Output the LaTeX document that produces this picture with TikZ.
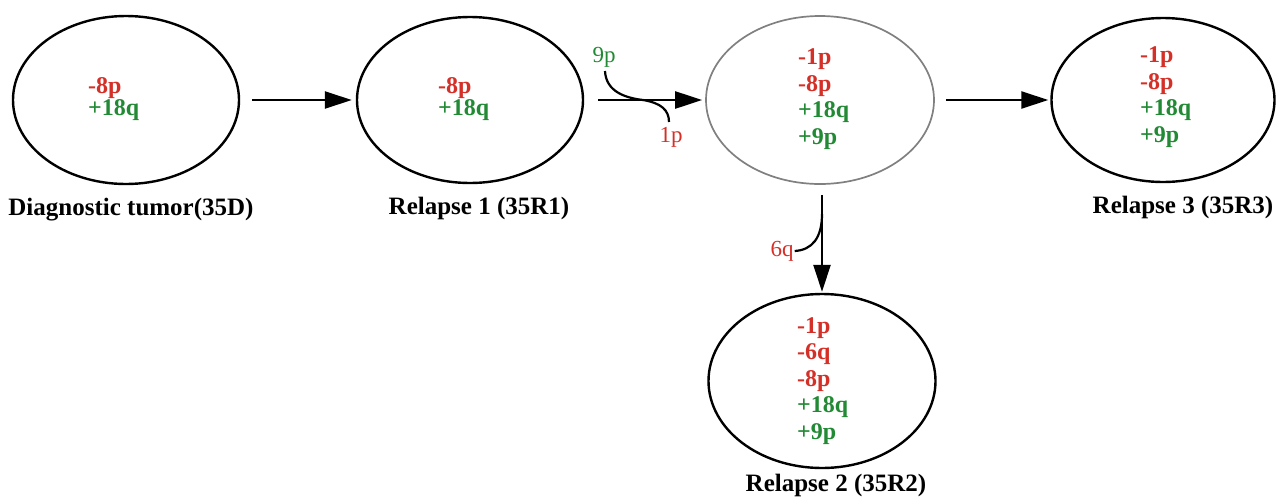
\documentclass[tikz,border=0pt]{standalone}
\usepackage{fontspec}
\setmainfont{Liberation Serif}
\usetikzlibrary{arrows.meta,shapes.geometric}
\definecolor{cred}{RGB}{212,48,40}
\definecolor{cgreen}{RGB}{34,138,52}
\tikzset{
  ell/.style={draw=black, line width=2.4pt, ellipse, inner sep=0pt},
  gell/.style={draw=black!50, line width=1.7pt, ellipse, inner sep=0pt},
  gain/.style={font=\fontsize{24}{22}\selectfont\bfseries, align=left, anchor=west, inner sep=0pt},
  gainw/.style={font=\fontsize{24}{26.5}\selectfont\bfseries, align=left, anchor=west, inner sep=0pt},
  lab/.style={font=\fontsize{25}{27}\selectfont\bfseries, inner sep=0pt},
  small/.style={font=\fontsize{23}{25}\selectfont, inner sep=1pt},
  arr/.style={line width=2.4pt, -{Triangle[length=27pt,width=17pt]}},
  curv/.style={line width=2.2pt}
}
\begin{document}
\begin{tikzpicture}[x=1pt,y=-1pt]
\useasboundingbox (0,0) rectangle (1280,496);
% ellipses
\node[ell, minimum width=226pt, minimum height=168pt] (e1) at (126,100) {};
\node[ell, minimum width=226pt, minimum height=166pt] (e2) at (470,100) {};
\node[gell, minimum width=228pt, minimum height=168pt] (e3) at (820,100) {};
\node[ell, minimum width=223pt, minimum height=164pt] (e4) at (1163,100) {};
\node[ell, minimum width=227pt, minimum height=174pt] (e5) at (822,381) {};
% contents
\node[gain] (t1) at (88,99) {\textcolor{cred}{-8p}\\\textcolor{cgreen}{+18q}};
\node[gain] (t2) at (438,99) {\textcolor{cred}{-8p}\\\textcolor{cgreen}{+18q}};
\node[gainw] (t3) at (798,99) {\textcolor{cred}{-1p}\\\textcolor{cred}{-8p}\\\textcolor{cgreen}{+18q}\\\textcolor{cgreen}{+9p}};
\node[gainw] (t4) at (1140,97) {\textcolor{cred}{-1p}\\\textcolor{cred}{-8p}\\\textcolor{cgreen}{+18q}\\\textcolor{cgreen}{+9p}};
\node[gainw] (t5) at (797,381) {\textcolor{cred}{-1p}\\\textcolor{cred}{-6q}\\\textcolor{cred}{-8p}\\\textcolor{cgreen}{+18q}\\\textcolor{cgreen}{+9p}};
% labels
\node[lab] (l1) at (131,210) {Diagnostic tumor(35D)};
\node[lab] (l2) at (479,208) {Relapse 1 (35R1)};
\node[lab] (l4) at (1183,207) {Relapse 3 (35R3)};
\node[lab] (l5) at (836,485) {Relapse 2 (35R2)};
% arrows
\draw[arr, shorten <=12pt, shorten >=4pt] (e1) -- (e2);
\draw[arr, shorten <=14pt, shorten >=3pt] (e2) -- (e3);
\draw[arr, shorten <=11pt, shorten >=2pt] (e3) -- (e4);
\draw[arr, shorten <=10pt, shorten >=1pt] (e3.south -| e5.north) -- (e5.north);
% gain/loss labels
\node[small, text=cgreen] (l9p) at (604,57) {9p};
\node[small, text=cred] (l1p) at (671,137) {1p};
\node[small, text=cred] (l6q) at (782,251) {6q};
\coordinate (c9) at (605,71);
\coordinate (c1) at (669,122);
\coordinate (c6) at (822,214);
\draw[curv] (c9) .. controls (606,92) and (626,98) .. (643,100)
               .. controls (661,103) and (669,110) .. (c1);
\draw[curv] (c6) .. controls (822,238) and (812,250) .. (l6q.east);
\end{tikzpicture}
\end{document}
